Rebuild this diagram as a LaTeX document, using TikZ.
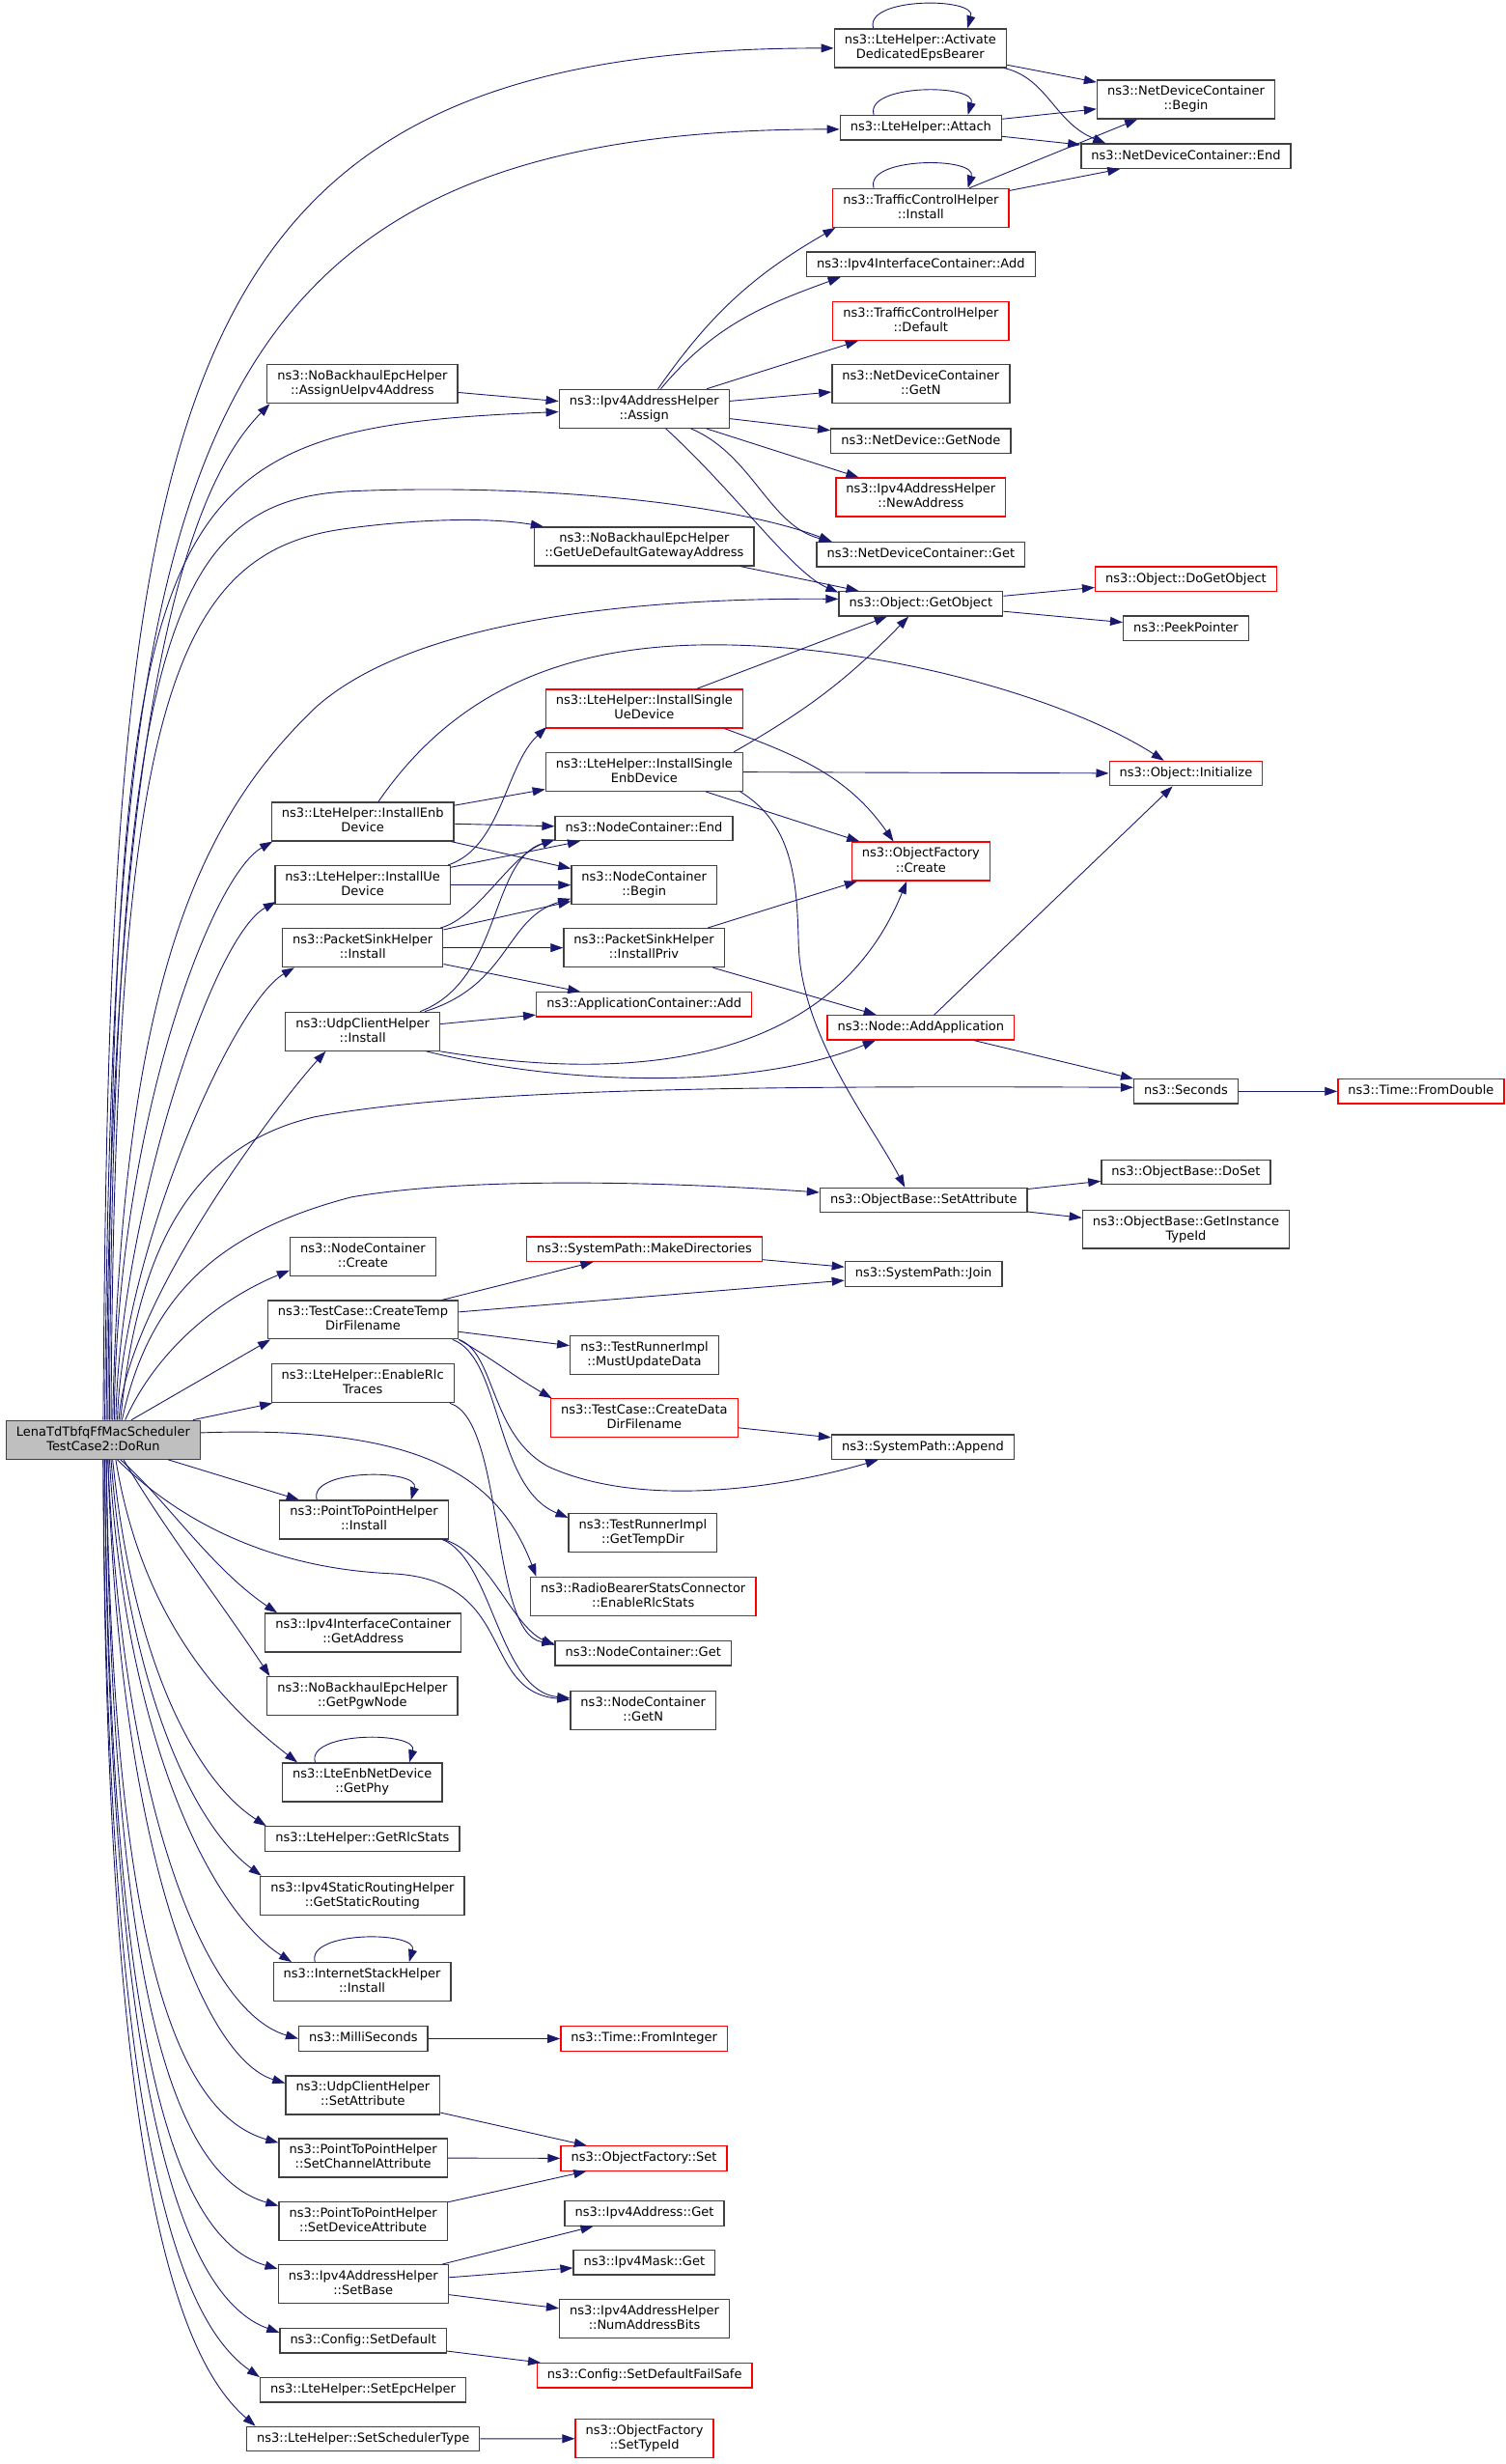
\documentclass[tikz,border=0pt]{standalone}
\usepackage{fontspec}
\setmainfont{DejaVu Sans}
\usetikzlibrary{arrows.meta}

\definecolor{edgeblue}{HTML}{191970}
\definecolor{framegray}{HTML}{404040}
\definecolor{rootgray}{HTML}{BFBFBF}

\tikzset{
  fn/.style={draw=framegray, fill=white, line width=0.8pt, inner xsep=6.5pt, inner ysep=3.65pt,
    minimum height=15.6pt, align=center, font=\fontsize{8}{9.3}\selectfont,
    execute at begin node={\vrule height 6.1pt depth 0pt width 0pt},
    execute at end node={\vrule height 0pt depth 1.9pt width 0pt}},
  fnred/.style={fn, draw=red},
  fnroot/.style={fn, fill=rootgray},
  call/.style={draw=edgeblue, line width=0.55pt, -{Triangle[length=8pt,width=5.5pt]}},
}

\begin{document}
\begin{tikzpicture}[x=1pt,y=1pt]
    \useasboundingbox (0,0) rectangle (960,-1570.5);

    \node[fnroot] (root)      at (65.8,-917.7)  {LenaTdTbfqFfMacScheduler\\TestCase2::DoRun};
    \node[fn]     (activate)  at (586.7,-30.7)  {ns3::LteHelper::Activate\\DedicatedEpsBearer};
    \node[fn]     (attach)    at (587,-81.4)    {ns3::LteHelper::Attach};
    \node[fnred]  (tchinst)   at (587,-132.5)   {ns3::TrafficControlHelper\\::Install};
    \node[fn]     (ifadd)     at (587,-168.5)   {ns3::Ipv4InterfaceContainer::Add};
    \node[fnred]  (tchdef)    at (587,-204.6)   {ns3::TrafficControlHelper\\::Default};
    \node[fn]     (ndcgetn)   at (587,-244.8)   {ns3::NetDeviceContainer\\::GetN};
    \node[fn]     (getnode)   at (587,-281)     {ns3::NetDevice::GetNode};
    \node[fnred]  (newaddr)   at (587,-316.9)   {ns3::Ipv4AddressHelper\\::NewAddress};
    \node[fn]     (ndcget)    at (587,-353.4)   {ns3::NetDeviceContainer::Get};
    \node[fn]     (getobj)    at (587,-384.8)   {ns3::Object::GetObject};
    \node[fnred]  (dogetobj)  at (756,-369)     {ns3::Object::DoGetObject};
    \node[fn]     (peek)      at (756,-400.4)   {ns3::PeekPointer};
    \node[fn]     (ndcbegin)  at (756,-63.4)    {ns3::NetDeviceContainer\\::Begin};
    \node[fn]     (ndcend)    at (756,-99.5)    {ns3::NetDeviceContainer::End};
    \node[fn]     (assignue)  at (231,-244.8)   {ns3::NoBackhaulEpcHelper\\::AssignUeIpv4Address};
    \node[fn]     (assign)    at (410.6,-260.5) {ns3::Ipv4AddressHelper\\::Assign};
    \node[fn]     (gateway)   at (410.7,-348.3) {ns3::NoBackhaulEpcHelper\\::GetUeDefaultGatewayAddress};
    \node[fnred]  (singleue)  at (410.7,-451.7) {ns3::LteHelper::InstallSingle\\UeDevice};
    \node[fnred]  (singleenb) at (410.7,-491.9) {ns3::LteHelper::InstallSingle\\EnbDevice};
    \node[fnred]  (init)      at (756,-493)     {ns3::Object::Initialize};
    \node[fn]     (instenb)   at (231.2,-523.7) {ns3::LteHelper::InstallEnb\\Device};
    \node[fn]     (ncend)     at (410.5,-528)   {ns3::NodeContainer::End};
    \node[fnred]  (create)    at (587,-549)     {ns3::ObjectFactory\\::Create};
    \node[fn]     (instue)    at (231.2,-564.1) {ns3::LteHelper::InstallUe\\Device};
    \node[fn]     (ncbegin)   at (410.6,-564.1) {ns3::NodeContainer\\::Begin};
    \node[fn]     (psinst)    at (231.2,-604.1) {ns3::PacketSinkHelper\\::Install};
    \node[fn]     (pspriv)    at (410.5,-604.1) {ns3::PacketSinkHelper\\::InstallPriv};
    \node[fnred]  (appadd)    at (410.6,-640.3) {ns3::ApplicationContainer::Add};
    \node[fn]     (udpinst)   at (231.2,-657.4) {ns3::UdpClientHelper\\::Install};
    \node[fnred]  (addapp)    at (587,-655)     {ns3::Node::AddApplication};
    \node[fn]     (seconds)   at (756,-695.6)   {ns3::Seconds};
    \node[fnred]  (fromdbl)   at (905.8,-695.6) {ns3::Time::FromDouble};
    \node[fn]     (setattr)   at (588.8,-765)   {ns3::ObjectBase::SetAttribute};
    \node[fn]     (doset)     at (756,-747)     {ns3::ObjectBase::DoSet};
    \node[fn]     (typeid)    at (756,-783.5)   {ns3::ObjectBase::GetInstance\\TypeId};
    \node[fn]     (nccreate)  at (231.3,-801)   {ns3::NodeContainer\\::Create};
    \node[fnred]  (mkdirs)    at (410.8,-796.2) {ns3::SystemPath::MakeDirectories};
    \node[fn]     (join)      at (588.7,-812)   {ns3::SystemPath::Join};
    \node[fn]     (tmpdir)    at (231.4,-841.2) {ns3::TestCase::CreateTemp\\DirFilename};
    \node[fn]     (mustupd)   at (410.8,-863.6) {ns3::TestRunnerImpl\\::MustUpdateData};
    \node[fn]     (rlctr)     at (231.2,-881.7) {ns3::LteHelper::EnableRlc\\Traces};
    \node[fnred]  (datadir)   at (410.7,-903.8) {ns3::TestCase::CreateData\\DirFilename};
    \node[fn]     (append)    at (588.3,-922.3) {ns3::SystemPath::Append};
    \node[fn]     (p2pinst)   at (232,-968.6)   {ns3::PointToPointHelper\\::Install};
    \node[fn]     (tempdir)   at (409.8,-977)   {ns3::TestRunnerImpl\\::GetTempDir};
    \node[fnred]  (rlcstats)  at (410,-1017.5)  {ns3::RadioBearerStatsConnector\\::EnableRlcStats};
    \node[fn]     (getaddr)   at (231.5,-1040.6) {ns3::Ipv4InterfaceContainer\\::GetAddress};
    \node[fn]     (ncget)     at (410,-1053.8)  {ns3::NodeContainer::Get};
    \node[fn]     (pgw)       at (231,-1081)    {ns3::NoBackhaulEpcHelper\\::GetPgwNode};
    \node[fn]     (ncgetn)    at (410,-1090)    {ns3::NodeContainer\\::GetN};
    \node[fn]     (getphy)    at (230.9,-1136)  {ns3::LteEnbNetDevice\\::GetPhy};
    \node[fn]     (rlcget)    at (231,-1172)    {ns3::LteHelper::GetRlcStats};
    \node[fn]     (routing)   at (231,-1208.2)  {ns3::Ipv4StaticRoutingHelper\\::GetStaticRouting};
    \node[fn]     (inet)      at (230.8,-1263.2) {ns3::InternetStackHelper\\::Install};
    \node[fn]     (millis)    at (231.6,-1299.4) {ns3::MilliSeconds};
    \node[fnred]  (fromint)   at (410.6,-1299.4) {ns3::Time::FromInteger};
    \node[fn]     (udpset)    at (231.3,-1335.4) {ns3::UdpClientHelper\\::SetAttribute};
    \node[fn]     (chanattr)  at (231.5,-1375.4) {ns3::PointToPointHelper\\::SetChannelAttribute};
    \node[fnred]  (ofset)     at (410.5,-1375.7) {ns3::ObjectFactory::Set};
    \node[fn]     (devattr)   at (231.5,-1415.6) {ns3::PointToPointHelper\\::SetDeviceAttribute};
    \node[fn]     (addrget)   at (410.8,-1410.8) {ns3::Ipv4Address::Get};
    \node[fn]     (maskget)   at (410.7,-1442)  {ns3::Ipv4Mask::Get};
    \node[fn]     (setbase)   at (231.5,-1455.8) {ns3::Ipv4AddressHelper\\::SetBase};
    \node[fn]     (numbits)   at (410.8,-1478)  {ns3::Ipv4AddressHelper\\::NumAddressBits};
    \node[fn]     (setdef)    at (231.5,-1491.9) {ns3::Config::SetDefault};
    \node[fnred]  (failsafe)  at (410.9,-1514.1) {ns3::Config::SetDefaultFailSafe};
    \node[fn]     (setepc)    at (231.4,-1523.3) {ns3::LteHelper::SetEpcHelper};
    \node[fn]     (setsched)  at (231.5,-1554.5) {ns3::LteHelper::SetSchedulerType};
    \node[fnred]  (typeidset) at (410.8,-1554.3) {ns3::ObjectFactory\\::SetTypeId};

    % straight calls
    \foreach \a/\b in {activate/ndcbegin, attach/ndcbegin, attach/ndcend, tchinst/ndcbegin,
        tchinst/ndcend, assignue/assign, assign/tchdef, assign/ndcgetn, assign/getnode,
        assign/newaddr, gateway/getobj, getobj/dogetobj, getobj/peek, singleue/getobj,
        singleenb/init, singleenb/create, instenb/singleenb, instenb/ncend, instenb/ncbegin,
        instue/ncend, instue/ncbegin, psinst/ncbegin, psinst/pspriv, psinst/appadd,
        udpinst/appadd, pspriv/create, pspriv/addapp, addapp/init, addapp/seconds,
        seconds/fromdbl, setattr/doset, setattr/typeid, tmpdir/mkdirs, tmpdir/join,
        mkdirs/join, tmpdir/mustupd, datadir/append, millis/fromint, udpset/ofset,
        chanattr/ofset, devattr/ofset, setbase/addrget, setbase/maskget, setbase/numbits,
        setdef/failsafe, setsched/typeidset, root/p2pinst}
      \draw[call] (\a) -- (\b);

    % recursive calls
    \foreach \n in {activate,attach,tchinst,p2pinst,getphy,inet}
      \draw[call] ([xshift=-30pt]\n.north) .. controls +(-6,20) and +(6,20) .. ([xshift=30pt]\n.north);

    % curved calls
    \draw[call] (activate) .. controls (668,-50) and (672,-78) .. ([xshift=16pt]ndcend.north west);
    \draw[call] (assign) to[out=55,in=210] ([xshift=2pt]tchinst.south west);
    \draw[call] (assign) to[out=50,in=200] ([xshift=22pt]ifadd.south west);
    \draw[call] (assign) .. controls (480,-290) and (490,-335) .. ([xshift=10pt]ndcget.north west);
    \draw[call] (assign) .. controls (470,-315) and (505,-365) .. ([yshift=-1pt]getobj.north west);
    \draw[call] ([xshift=-12pt]singleue.south east) to[out=-20,in=125] ([xshift=27pt]create.north west);
    \draw[call] ([xshift=-6pt]singleenb.north east) to[bend right=8] (getobj);
    \draw[call] ([xshift=-2pt]singleenb.south east) .. controls (505,-525) and (508,-560) .. (509,-600)
        .. controls (510,-660) and (555,-715) .. ([xshift=-12pt]setattr.north);
    \draw[call] ([xshift=10pt]instenb.north) .. controls (290,-440) and (360,-412) .. (450,-411)
        .. controls (560,-410) and (680,-445) .. ([xshift=-14pt]init.north);
    \draw[call] ([xshift=-2pt]instue.north east) .. controls (320,-540) and (322,-488) .. ([xshift=1pt,yshift=1pt]singleue.south west);
    \draw[call] ([xshift=-2pt]psinst.north east) .. controls (305,-585) and (325,-545) .. ([yshift=1pt]ncend.south west);
    \draw[call] ([xshift=-13pt]udpinst.north east) .. controls (320,-625) and (312,-548) .. ([yshift=1pt]ncend.south west);
    \draw[call] ([xshift=-10pt]udpinst.north east) .. controls (325,-628) and (322,-585) .. ([yshift=4pt]ncbegin.south west);
    \draw[call] (udpinst.south east) .. controls (400,-690) and (530,-680) .. ([xshift=-9pt]create.south);
    \draw[call] ([xshift=-9pt]udpinst.south east) .. controls (360,-692) and (480,-695) .. ([xshift=-29pt]addapp.south);
    \draw[call] (tmpdir.south east) to[out=-30,in=150] ([xshift=1pt]datadir.north west);
    \draw[call] (tmpdir.south east) .. controls (316,-862) and (312,-915) .. (350,-935)
        .. controls (410,-962) and (500,-948) .. ([xshift=30pt]append.south west);
    \draw[call] ([xshift=-4pt]tmpdir.south east) .. controls (320,-865) and (315,-948) .. ([yshift=-3pt]tempdir.north west);
    \draw[call] ([xshift=-3pt]rlctr.south east) .. controls (322,-905) and (312,-1042) .. ([yshift=-2pt]ncget.north west);
    \draw[call] ([xshift=-3pt]p2pinst.south east) .. controls (312,-990) and (326,-1036) .. ([yshift=-3pt]ncget.north west);
    \draw[call] ([xshift=-4pt]p2pinst.south east) .. controls (314,-994) and (318,-1078) .. ([yshift=-5pt]ncgetn.north west);

    % calls leaving DoRun upwards
    \draw[call] (root.north) .. controls (70,-250) and (100,-30.7) .. (activate.west);
    \draw[call] ([xshift=1pt]root.north) .. controls (72,-300) and (110,-82.4) .. ([yshift=-1pt]attach.west);
    \draw[call] ([xshift=2pt]root.north) .. controls (70,-450) and (120,-310) .. ([xshift=2pt]assignue.south west);
    \draw[call] ([xshift=3pt]root.north) .. controls (73,-310) and (95,-273) .. ([yshift=-2pt]assign.west);
    \draw[call] ([xshift=4pt]root.north) .. controls (72,-400) and (110,-318) .. (225,-313)
        .. controls (350,-308) and (470,-322) .. ([xshift=10pt]ndcget.north west);
    \draw[call] ([xshift=5pt]root.north) .. controls (73,-450) and (110,-352) .. (220,-337)
        .. controls (280,-329) and (320,-331) .. ([xshift=6pt]gateway.north west);
    \draw[call] ([xshift=6pt]root.north) .. controls (78,-620) and (130,-520) .. (200,-452)
        .. controls (265,-392) and (420,-381) .. ([yshift=3pt]getobj.west);
    \draw[call] ([xshift=7pt]root.north) .. controls (74,-720) and (134,-559) .. ([xshift=1pt]instenb.south west);
    \draw[call] ([xshift=8pt]root.north) .. controls (76,-780) and (134,-598) .. ([xshift=1pt,yshift=2pt]instue.south west);
    \draw[call] ([xshift=9pt]root.north) .. controls (78,-800) and (148,-640) .. ([xshift=8pt]psinst.south west);
    \draw[call] ([xshift=10pt]root.north) .. controls (80,-830) and (180,-700) .. ([xshift=26pt]udpinst.south west);
    \draw[call] ([xshift=11pt]root.north) .. controls (88,-790) and (125,-730) .. (200,-712)
        .. controls (300,-693) and (500,-692) .. ([yshift=2.5pt]seconds.west);
    \draw[call] ([xshift=12pt]root.north) .. controls (95,-825) and (140,-785) .. (224,-763)
        .. controls (300,-750) and (420,-753) .. ([yshift=5pt]setattr.west);
    \draw[call] ([xshift=14pt]root.north) .. controls (100,-860) and (140,-828) .. ([yshift=4pt]nccreate.south west);
    \draw[call] ([xshift=18pt]root.north) -- ([xshift=2pt]tmpdir.south west);
    \draw[call] ([xshift=-5pt]root.north east) -- ([xshift=1pt]rlctr.south west);
    \draw[call] ([yshift=4.5pt]root.east) .. controls (270,-908) and (318,-942) .. ([xshift=4pt]rlcstats.north west);

    % calls leaving DoRun downwards
    \draw[call] ([xshift=9pt]root.south) .. controls (120,-975) and (180,-1000) .. (250,-1003)
        .. controls (330,-1007) and (305,-1078) .. ([yshift=-6pt]ncgetn.north west);
    \draw[call] ([xshift=11pt]root.south) .. controls (105,-955) and (135,-1000) .. ([xshift=8pt]getaddr.north west);
    \draw[call] ([xshift=13pt]root.south) .. controls (105,-975) and (140,-1020) .. ([xshift=2pt]pgw.north west);
    \draw[call] ([xshift=8pt]root.south) .. controls (90,-1030) and (140,-1085) .. ([xshift=10pt]getphy.north west);
    \draw[call] ([xshift=6pt]root.south) .. controls (85,-1060) and (125,-1135) .. ([xshift=1pt]rlcget.north west);
    \draw[call] ([xshift=5pt]root.south) .. controls (82,-1080) and (125,-1165) .. ([xshift=1pt]routing.north west);
    \draw[call] ([xshift=4pt]root.south) .. controls (80,-1110) and (135,-1218) .. ([xshift=12pt]inet.north west);
    \draw[call] ([xshift=3pt]root.south) .. controls (78,-1150) and (130,-1282) .. (millis.west);
    \draw[call] ([xshift=3pt]root.south) .. controls (76,-1180) and (130,-1312) .. ([yshift=-5pt]udpset.north west);
    \draw[call] ([xshift=2pt]root.south) .. controls (72,-1250) and (115,-1348) .. ([yshift=-3pt]chanattr.north west);
    \draw[call] ([xshift=2pt]root.south) .. controls (71,-1285) and (115,-1388) .. ([yshift=-3pt]devattr.north west);
    \draw[call] ([xshift=1pt]root.south) .. controls (70,-1320) and (115,-1428) .. ([yshift=-3pt]setbase.north west);
    \draw[call] ([xshift=1pt]root.south) .. controls (69,-1345) and (118,-1465) .. ([yshift=-3pt]setdef.north west);
    \draw[call] (root.south) .. controls (68,-1365) and (115,-1480) .. (setepc.north west);
    \draw[call] (root.south) .. controls (67,-1390) and (115,-1505) .. ([xshift=6pt]setsched.north west);
\end{tikzpicture}
\end{document}
